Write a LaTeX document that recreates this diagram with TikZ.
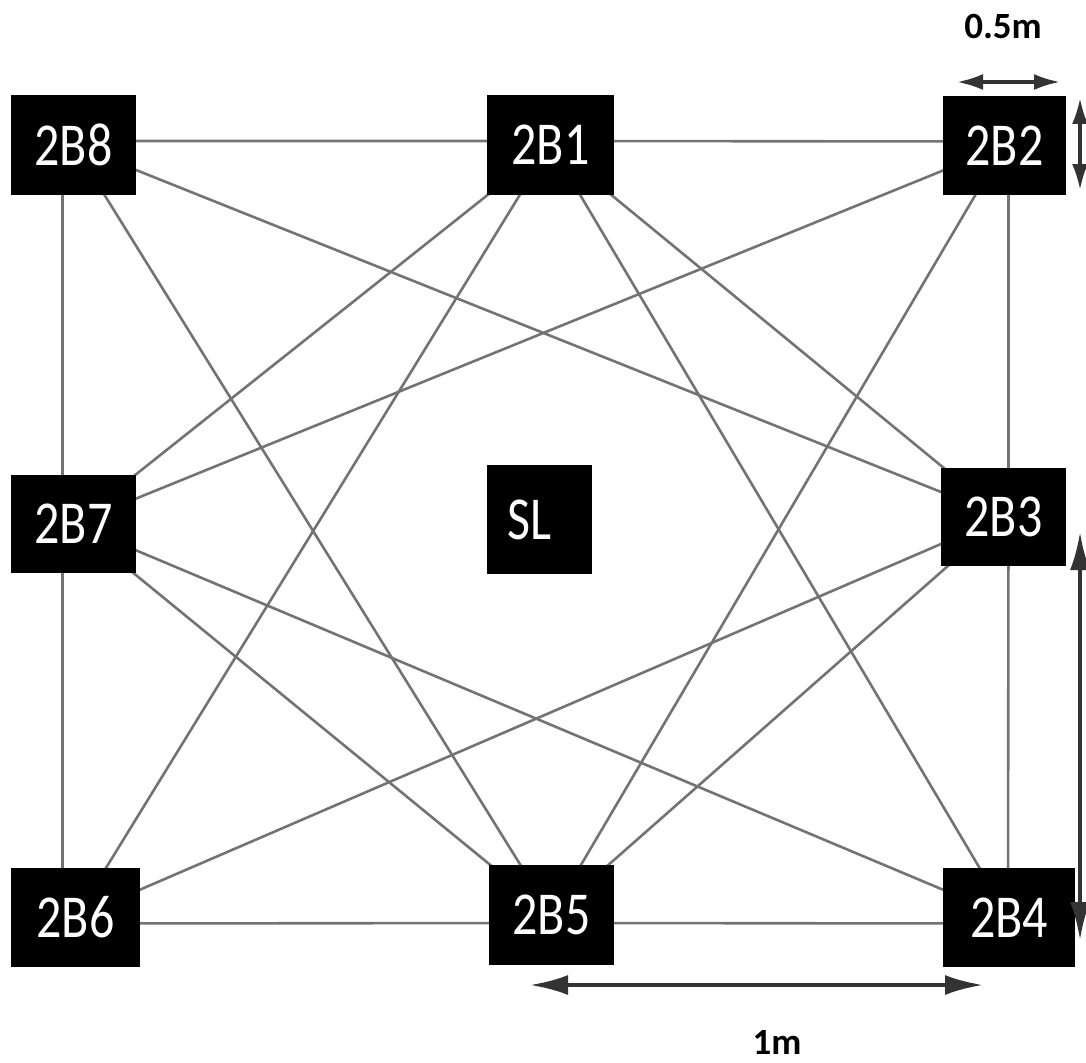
\documentclass[tikz,border=0pt]{standalone}
\usepackage{fontspec}
\setmainfont{Carlito}
\newfontfamily\boxfont[FakeStretch=0.82]{Carlito}
\usetikzlibrary{arrows.meta}
\begin{document}
\begin{tikzpicture}[x=1pt,y=-1pt,
  blk/.style={fill=black,draw=none,inner sep=0pt,text=white,
    font=\boxfont\fontsize{61}{61}\selectfont},
  link/.style={draw=gray!90!black,line width=2.6pt},
  dimA/.style={draw=black!80,line width=4pt,{Latex[length=38pt,width=20pt]}-{Latex[length=38pt,width=20pt]}},
  dimB/.style={draw=black!80,line width=3.4pt,{Latex[length=26pt,width=16pt]}-{Latex[length=26pt,width=16pt]}},
  lbl/.style={font=\bfseries\fontsize{37}{37}\selectfont,text=black}]
\useasboundingbox (0,0) rectangle (1086,1062);
\coordinate (c8) at (73.5,145);
\coordinate (c1) at (550.5,145);
\coordinate (c2) at (1004.5,145.5);
\coordinate (c7) at (73.5,524);
\coordinate (c3) at (1003.5,517);
\coordinate (c6) at (75.5,917.5);
\coordinate (c5) at (551.5,915);
\coordinate (c4) at (1009,917.5);
% perimeter
\draw[link] ([yshift=4pt]c8) -- ([yshift=4pt]c1) -- ([yshift=4pt]c2);
\draw[link] ([xshift=-11pt]c8) -- ([xshift=-11pt]c7) -- ([xshift=-13pt]c6);
\draw[link] ([xshift=4pt]c2) -- ([xshift=5pt]c3) -- ([xshift=-1pt]c4);
\draw[link] ([yshift=-6pt]c6) -- ([yshift=-8pt]c5) -- ([yshift=-6pt]c4);
% diagonals
\draw[link] (c8) -- (c3);
\draw[link] (c8) -- (c5);
\draw[link] (c2) -- (c7);
\draw[link] (c2) -- (c5);
\draw[link] (c4) -- (c7);
\draw[link] (c4) -- (c1);
\draw[link] (c6) -- (c1);
\draw[link] (c6) -- (c3);
\draw[link] (c1) -- (c7);
\draw[link] (c1) -- (c3);
\draw[link] (c5) -- (c7);
\draw[link] (c5) -- (c3);
% boxes
\node[blk,minimum width=125pt,minimum height=100pt] (n8) at (c8) {2B8};
\node[blk,minimum width=127pt,minimum height=100pt] (n1) at (c1) {2B1};
\node[blk,minimum width=123pt,minimum height=99pt] (n2) at (c2) {2B2};
\node[blk,minimum width=125pt,minimum height=98pt] (n7) at (c7) {2B7};
\node[blk,minimum width=105pt,minimum height=109pt,text width=64pt,align=left] (sl) at (539.5,519.5) {SL};
\node[blk,minimum width=125pt,minimum height=98pt] (n3) at (c3) {2B3};
\node[blk,minimum width=129pt,minimum height=99pt] (n6) at (c6) {2B6};
\node[blk,minimum width=125pt,minimum height=100pt] (n5) at (c5) {2B5};
\node[blk,minimum width=132pt,minimum height=99pt] (n4) at (c4) {2B4};
% dimension arrows
\coordinate (a1) at (957,82);
\coordinate (a2) at (1060,82);
\draw[dimB] (a1) -- (a2);
\node[lbl] (l05) at (1003,26) {0.5m};
\coordinate (b1) at (1080,98);
\coordinate (b2) at (1080,190);
\draw[dimB] (b1) -- (b2);
\coordinate (d1) at (530,985);
\coordinate (d2) at (983,985);
\draw[dimA] (d1) -- (d2);
\node[lbl] (l1) at (777,1042) {1m};
\coordinate (e1) at (1080,532);
\coordinate (e2) at (1080,940);
\draw[dimA] (e1) -- (e2);
\end{tikzpicture}
\end{document}
